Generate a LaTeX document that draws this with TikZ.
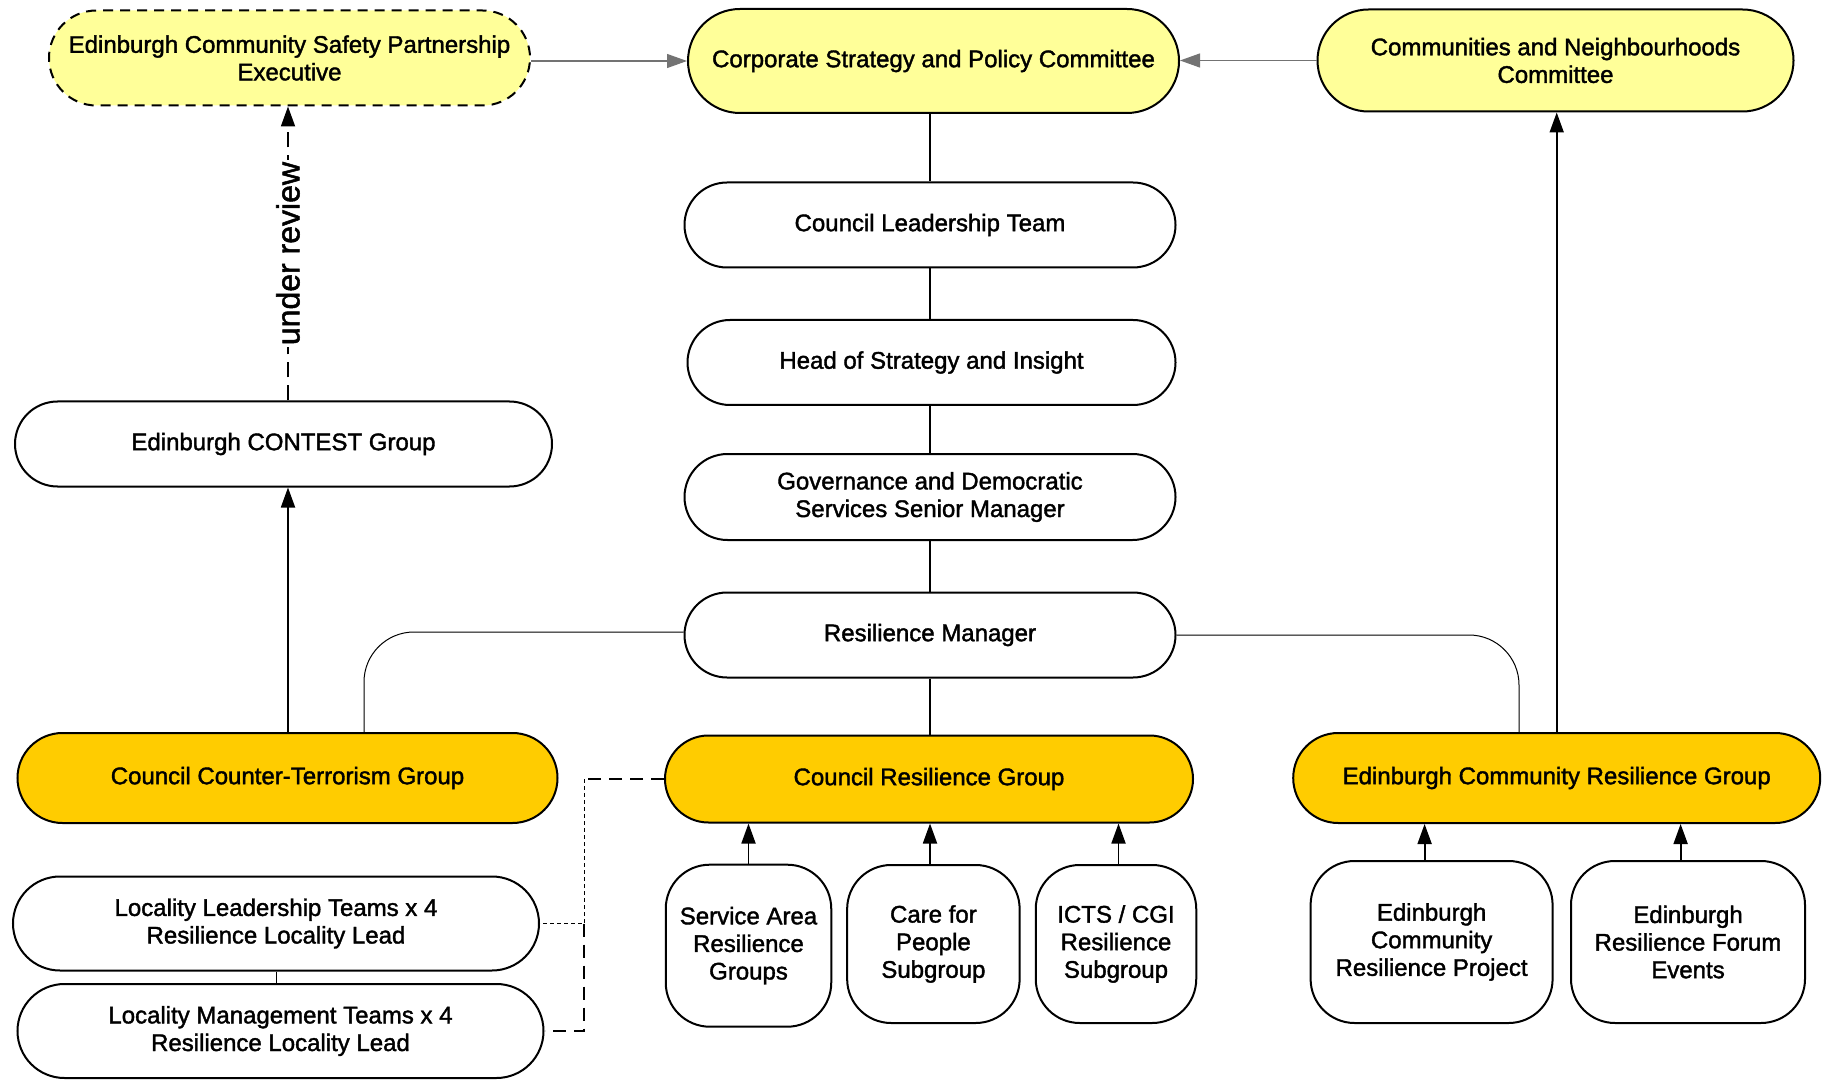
\documentclass[tikz,border=0pt]{standalone}
\usepackage{fontspec}
\setmainfont{Liberation Sans}[FakeBold=1.6]
\usetikzlibrary{arrows.meta,shapes.misc,calc}
\definecolor{paleyel}{HTML}{FFFF99}
\definecolor{goldfill}{HTML}{FFCC00}
\begin{document}
\begin{tikzpicture}[x=0.5pt,y=-0.5pt,
  basebox/.style={draw, line width=1pt, align=center, inner sep=0pt,
    font=\fontsize{12pt}{13.8pt}\selectfont},
  pill/.style={basebox, rounded rectangle},
  rbox/.style={basebox, rectangle, rounded corners=22pt},
  conn/.style={line width=0.9pt},
  thinconn/.style={line width=0.5pt},
  greyconn/.style={line width=0.6pt, black!55},
  arr/.style={-{Triangle[length=10pt,width=7pt]}},
  bigdash/.style={line width=0.75pt, dash pattern=on 6.5pt off 4pt},
  finedash/.style={line width=0.5pt, dash pattern=on 2pt off 1.5pt},
]
\useasboundingbox (0,0) rectangle (1825,1080);

% top row
\node[pill, fill=paleyel, dash pattern=on 5pt off 3.5pt, minimum width=240.5pt, minimum height=47.5pt] (ecsp) at (289.5,58) {Edinburgh Community Safety Partnership\\Executive};
\node[pill, fill=paleyel, minimum width=245.5pt, minimum height=52pt] (corp) at (933.5,61) {Corporate Strategy and Policy Committee};
\node[pill, fill=paleyel, minimum width=238pt, minimum height=51pt] (comm) at (1555.5,60.5) {Communities and Neighbourhoods\\Committee};

% central chain
\node[pill, minimum width=245.5pt, minimum height=42.5pt] (clt) at (930,225) {Council Leadership Team};
\node[pill, minimum width=244pt, minimum height=42.5pt] (head) at (931.5,362.5) {Head of Strategy and Insight};
\node[pill, minimum width=245.5pt, minimum height=43pt] (gov) at (930,497) {Governance and Democratic\\Services Senior Manager};
\node[pill, minimum width=245.5pt, minimum height=42.5pt] (rm) at (930,635) {Resilience Manager};

% left column
\node[pill, minimum width=268.5pt, minimum height=42.5pt] (contest) at (283.5,444) {Edinburgh CONTEST Group};
\node[pill, fill=goldfill, minimum width=270pt, minimum height=45pt] (ct) at (287.5,778) {Council Counter-Terrorism Group};
\node[pill, minimum width=263pt, minimum height=47pt] (llt) at (276,923.5) {Locality Leadership Teams x 4\\Resilience Locality Lead};
\node[pill, minimum width=263pt, minimum height=47pt] (lmt) at (280.5,1031) {Locality Management Teams x 4\\Resilience Locality Lead};

% group row
\node[pill, fill=goldfill, minimum width=264pt, minimum height=43.5pt] (crg) at (929,779) {Council Resilience Group};
\node[pill, fill=goldfill, minimum width=263.5pt, minimum height=45pt] (ecrg) at (1556.7,778) {Edinburgh Community Resilience Group};

% subgroups
\node[rbox, minimum width=82.75pt, minimum height=81pt] (sa) at (748.5,945.7) {Service Area\\Resilience\\Groups};
\node[rbox, minimum width=86.25pt, minimum height=79pt] (care) at (933.4,944) {Care for\\People\\Subgroup};
\node[rbox, minimum width=80.25pt, minimum height=79pt] (icts) at (1116,944) {ICTS / CGI\\Resilience\\Subgroup};
\node[rbox, minimum width=121pt, minimum height=81pt] (ecrp) at (1431.6,942) {Edinburgh\\Community\\Resilience Project};
\node[rbox, minimum width=117pt, minimum height=81pt] (erf) at (1688,942) {Edinburgh\\Resilience Forum\\Events};

% top arrows
\draw[greyconn, arr] (ecsp.east |- corp.west) -- (corp.west);
\draw[greyconn, arr] (comm.west) -- (comm.west -| corp.east);

% central chain lines
\draw[conn] (clt.north |- corp.south) -- (clt.north);
\draw[conn] (clt.south) -- (clt.south |- head.north);
\draw[conn] (gov.north |- head.south) -- (gov.north);
\draw[conn] (gov.south) -- (gov.south |- rm.north);
\draw[conn] (rm.south) -- (rm.south |- crg.north);

% resilience manager branches
\coordinate (ctup) at ($(ct.north)+(76.5,0)$);
\coordinate (ecrgup) at ($(ecrg.north)+(-37.7,0)$);
\draw[thinconn, rounded corners=25pt] ($(rm.west)+(0,-3)$) -| (ctup);
\draw[thinconn, rounded corners=25pt] (rm.east) -| (ecrgup);

% left column arrows
\coordinate (ux) at (288,0);
\draw[conn, arr] (ux |- ct.north) -- (ux |- contest.south);
\draw[conn, dash pattern=on 7.5pt off 4pt, arr] (ux |- contest.north) -- (ux |- ecsp.south)
  node[midway, rotate=90, fill=white, inner sep=1pt, font=\fontsize{16pt}{16pt}\selectfont] (ur) {under review};
\draw[thinconn] (llt.south) -- (llt.south |- lmt.north);

% right arrow
\draw[conn, arr] (ecrg.north) -- (ecrg.north |- comm.south);

% subgroup arrows
\draw[conn, arr] (sa.north) -- (sa.north |- crg.south);
\coordinate (carex) at ($(care.north)+(-3.4,0)$);
\draw[conn, arr] (carex) -- (carex |- crg.south);
\coordinate (ictsx) at ($(icts.north)+(2.5,0)$);
\draw[conn, arr] (ictsx) -- (ictsx |- crg.south);
\coordinate (ecrpx) at ($(ecrp.north)+(-7,0)$);
\draw[conn, arr] (ecrpx) -- (ecrpx |- ecrg.south);
\coordinate (erfx) at ($(erf.north)+(-7.4,0)$);
\draw[conn, arr] (erfx) -- (erfx |- ecrg.south);

% dashed locality links
\coordinate (jx) at (584,0);
\draw[bigdash] (crg.west) -- (crg.west -| jx);
\draw[finedash] (crg.west -| jx) -- (llt.east -| jx) -- (llt.east);
\draw[bigdash] (llt.east -| jx) -- (lmt.east -| jx) -- (lmt.east);
\end{tikzpicture}
\end{document}
